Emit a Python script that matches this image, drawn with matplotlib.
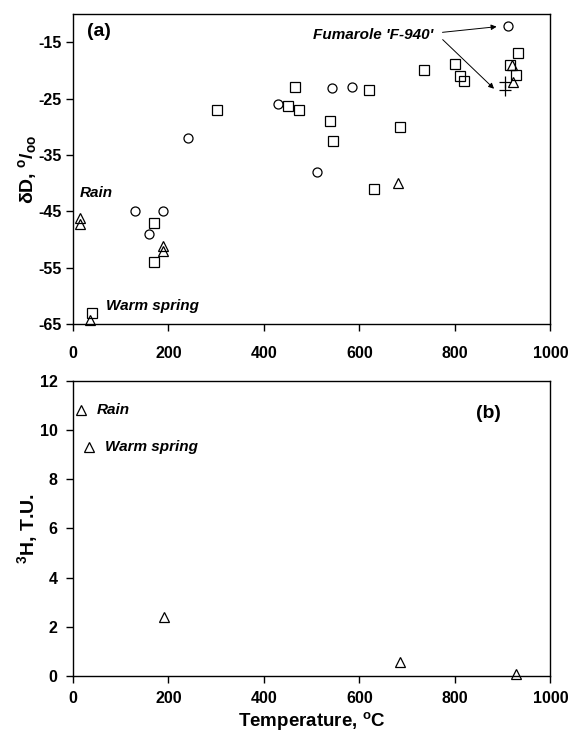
import matplotlib
matplotlib.use('Agg')
import matplotlib.pyplot as plt

plt.rcParams.update({
    'font.family': ['Liberation Sans', 'DejaVu Sans'],
    'font.size': 11,
    'font.weight': 'bold',
    'axes.linewidth': 1.0,
    'axes.unicode_minus': False,
    'xtick.major.size': 5,
    'ytick.major.size': 5,
    'mathtext.default': 'regular',
})

# panel (a): deltaD vs temperature
sq_t = [40, 170, 170, 301, 450, 464, 474, 538, 545, 620, 630, 684, 735, 799, 810, 819, 916, 927, 932]
sq_d = [-63, -47, -54, -27, -26.3, -23, -27, -29, -32.6, -23.5, -41, -30, -20, -18.9, -21, -21.9, -19, -20.8, -17]

ci_t = [130, 160, 189, 241, 430, 511, 542, 585, 910]
ci_d = [-45, -49, -45, -32, -26, -38, -23.1, -23, -12.1]

tr_t = [15, 15, 35, 189, 189, 680, 920, 921]
tr_d = [-46.2, -47.2, -64.3, -51.2, -52, -40, -19.1, -22]

pl_t = [905, 905]
pl_d = [-22, -23.5]

# panel (b): tritium vs temperature
h3_t = [17, 34, 190, 685, 927]
h3_v = [10.8, 9.3, 2.4, 0.58, 0.07]

xticks = [0, 200, 400, 600, 800, 1000]

fig = plt.figure(figsize=(5.72, 7.49), dpi=100)
ax1 = fig.add_axes([0.1276, 0.5674, 0.8348, 0.4139])
ax2 = fig.add_axes([0.1276, 0.0975, 0.8348, 0.3939])

mk = dict(linestyle='none', markerfacecolor='none', markeredgecolor='black',
          markeredgewidth=0.9, clip_on=False)
ax1.plot(sq_t, sq_d, marker='s', markersize=7, **mk)
ax1.plot(ci_t, ci_d, marker='o', markersize=6.5, **mk)
ax1.plot(tr_t, tr_d, marker='^', markersize=7, **mk)
ax1.plot(pl_t, pl_d, marker='+', markersize=9, **mk)

ax1.set_xlim(0, 1000)
ax1.set_ylim(-65, -10)
ax1.set_xticks(xticks)
ax1.set_yticks([-15, -25, -35, -45, -55, -65])
ax1.set_ylabel(r'$\delta$D, $^{o}/_{oo}$', fontsize=14, fontweight='bold', labelpad=0)

ax1.text(0.03, 0.93, '(a)', transform=ax1.transAxes, fontsize=14, fontweight='bold')
ax1.text(15, -42.5, 'Rain', fontsize=11, fontweight='bold', style='italic')
ax1.text(70, -62.5, 'Warm spring', fontsize=11, fontweight='bold', style='italic')
ax1.text(755, -13.7, "Fumarole 'F-940'", fontsize=11, fontweight='bold',
         style='italic', ha='right', va='center')
arrow = dict(arrowstyle='-|>', color='black', lw=0.7, mutation_scale=8)
ax1.annotate('', xy=(893, -12.2), xytext=(768, -13.3), arrowprops=arrow)
ax1.annotate('', xy=(886, -23.6), xytext=(770, -14.2), arrowprops=arrow)

ax2.plot(h3_t, h3_v, marker='^', markersize=7, **mk)
ax2.set_xlim(0, 1000)
ax2.set_ylim(0, 12)
ax2.set_xticks(xticks)
ax2.set_yticks([0, 2, 4, 6, 8, 10, 12])
ax2.set_ylabel(r'$^{3}$H, T.U.', fontsize=14, fontweight='bold', labelpad=0)
ax2.set_xlabel(r'Temperature, $^{o}$C', fontsize=13.5, fontweight='bold', labelpad=3)
ax2.text(0.87, 0.89, '(b)', transform=ax2.transAxes, fontsize=14, fontweight='bold',
         ha='center', va='center')
ax2.text(50, 10.8, 'Rain', fontsize=11, fontweight='bold', style='italic', va='center')
ax2.text(68, 9.3, 'Warm spring', fontsize=11, fontweight='bold', style='italic', va='center')

ax1.tick_params(direction='out', width=1.0, labelsize=11.5)
ax1.tick_params(axis='x', pad=11)
ax1.tick_params(axis='y', pad=3)
ax2.tick_params(direction='out', width=1.0, labelsize=11.5)
ax2.tick_params(axis='x', pad=6)
ax2.tick_params(axis='y', pad=6)

fig.savefig('out.png', dpi=100)
